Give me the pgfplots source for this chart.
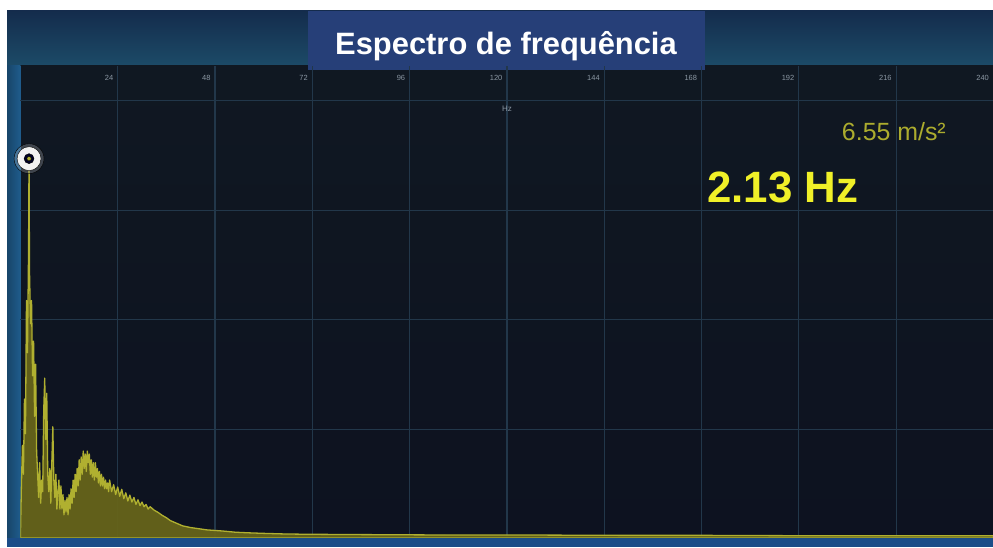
\documentclass[border=0pt]{standalone}
\usepackage{pgfplots}
\pgfplotsset{compat=1.18}
\usepackage{fontspec}
\setmainfont{Liberation Sans}

\definecolor{panelblue}{HTML}{173A60}
\definecolor{headtop}{HTML}{142C4C}
\definecolor{headbot}{HTML}{1C4B68}
\definecolor{titlebox}{HTML}{263F78}
\definecolor{plottop}{HTML}{101822}
\definecolor{plotmid}{HTML}{173042}
\definecolor{plotbot}{HTML}{0D1220}
\definecolor{stripe}{HTML}{1F5C8C}
\definecolor{bottomstripe}{HTML}{1B4D88}
\definecolor{gridc}{HTML}{22374A}
\definecolor{tickc}{HTML}{8C98A4}
\definecolor{specline}{HTML}{B0B030}
\definecolor{specfill}{HTML}{66641A}
\definecolor{hzyellow}{HTML}{F0F028}
\definecolor{ampyellow}{HTML}{ACAC2E}

% amplitude spectrum, Hz vs m/s^2
\pgfplotstableread{
f a
0.00 0.00
0.25 0.9
0.50 1.6
0.75 1.1
1.00 2.4
1.25 1.8
1.50 4.1
1.75 3.2
2.00 4.9
2.13 6.55
2.25 4.6
2.50 3.7
2.75 4.1
3.00 2.8
3.25 3.4
3.50 2.1
3.75 3.0
4.00 1.5
4.25 1.1
4.50 0.7
4.75 1.3
5.00 0.6
5.25 1.0
5.50 0.8
5.75 2.2
6.00 2.76
6.25 1.7
6.50 2.5
6.75 1.1
7.00 0.8
7.25 1.2
7.50 0.6
7.75 1.3
8.00 1.92
8.25 1.0
8.50 0.7
8.75 1.1
9.00 0.5
9.25 0.8
9.50 1.0
9.75 0.5
10.00 0.9
10.25 0.5
10.50 0.75
10.75 0.4
11.00 0.65
11.25 0.45
11.50 0.7
11.75 0.4
12.00 0.75
12.25 0.5
12.50 0.85
12.75 0.6
13.00 1.0
13.25 0.7
13.50 1.1
13.75 0.8
14.00 1.2
14.25 0.9
14.50 1.35
14.75 1.0
15.00 1.4
15.25 1.1
15.50 1.5
15.75 1.2
16.00 1.45
16.25 1.15
16.50 1.5
16.75 1.3
17.00 1.45
17.25 1.1
17.50 1.35
17.75 1.05
18.00 1.3
18.25 1.0
18.50 1.3
18.75 1.05
19.00 1.2
19.25 0.95
19.50 1.15
19.75 0.9
20.00 1.1
20.25 0.9
20.50 1.05
20.75 0.85
21.00 1.0
21.25 0.85
21.50 0.95
21.75 0.8
22.00 1.0
22.50 0.8
23.00 0.92
23.50 0.75
24.00 0.88
24.50 0.72
25.00 0.84
25.50 0.68
26.00 0.78
26.50 0.64
27.00 0.74
27.50 0.62
28.00 0.7
28.50 0.58
29.00 0.66
29.50 0.56
30.00 0.62
30.50 0.54
31.00 0.58
31.50 0.5
32.00 0.54
33.00 0.48
34.00 0.44
35.00 0.39
36.00 0.35
37.00 0.3
38.00 0.27
39.00 0.24
40.00 0.21
42.00 0.18
44.00 0.16
46.00 0.14
48.00 0.13
50.00 0.12
53.00 0.10
56.00 0.09
60.00 0.08
65.00 0.07
70.00 0.065
80.00 0.06
95.00 0.055
110.0 0.05
130.0 0.05
150.0 0.045
170.0 0.045
190.0 0.04
210.0 0.04
240.0 0.04
}\spectrum

\begin{document}
\begin{tikzpicture}[x=1bp,y=1bp]
% page and panel
\fill[white] (0,0) rectangle (993,548);
\fill[panelblue] (7,1) rectangle (993,537);
% header band
\shade[top color=headtop, bottom color=headbot] (7,482) rectangle (993,537);
% plot background
\shade[top color=plottop, middle color=plotmid, bottom color=plotbot] (20.4,10) rectangle (993,482);
% left and bottom stripes
\shade[left color=stripe!75!black, right color=stripe] (7,1) rectangle (20.4,482);
\fill[bottomstripe] (7,1) rectangle (993,10);
% title
\fill[titlebox] (308,478) rectangle (705,537);
\node[anchor=base, text=white, font=\fontsize{31}{33}\selectfont\bfseries] at (506,493) {Espectro de frequência};

\begin{axis}[
  at={(20.4bp,10bp)}, anchor=south west,
  width=973bp, height=472bp, scale only axis,
  xmin=0, xmax=240, ymin=0, ymax=8.15,
  axis line style={draw=none},
  xtick={24,48,...,240},
  ytick={1.87,3.77,5.65,7.56},
  yticklabels={},
  major tick length=0pt,
  /pgf/number format/assume math mode=true,
  xticklabel pos=upper,
  xticklabel style={anchor=north east, xshift=-1bp, yshift=-6bp,
    font=\fontsize{7.5}{8}\selectfont, text=tickc},
  grid=major,
  major grid style={color=gridc, line width=1.2bp},
  clip mode=individual,
]
\addplot[draw=specline, line width=1.3bp, fill=specfill, fill opacity=0.95, line join=round]
  table[x=f, y=a] {\spectrum} \closedcycle;
% peak marker
\addplot[only marks, mark=*, mark size=15, mark options={fill=white, fill opacity=0.2, draw=none}]
  coordinates {(2.13,6.55)};
\addplot[only marks, mark=*, mark size=12, mark options={fill=white!90!gray, draw=none}]
  coordinates {(2.13,6.55)};
\addplot[only marks, mark=*, mark size=5, mark options={fill=black!85!blue, draw=none}]
  coordinates {(2.13,6.55)};
\addplot[only marks, mark=*, mark size=2.2, mark options={fill=specline, draw=none}]
  coordinates {(2.13,6.55)};
\node[anchor=north, text=tickc, font=\fontsize{8}{9}\selectfont] at (axis cs:120,7.52) {Hz};
\end{axis}

% readout
\node[anchor=base east, text=ampyellow, font=\fontsize{25}{27}\selectfont, inner sep=0] at (946,407) {6.55 m/s²};
\node[anchor=base west, text=hzyellow, font=\fontsize{44}{46}\selectfont\bfseries, inner sep=0] at (707,345) {2.13 Hz};

\pgfresetboundingbox
\useasboundingbox (0,0) rectangle (993,548);
\end{tikzpicture}
\end{document}
